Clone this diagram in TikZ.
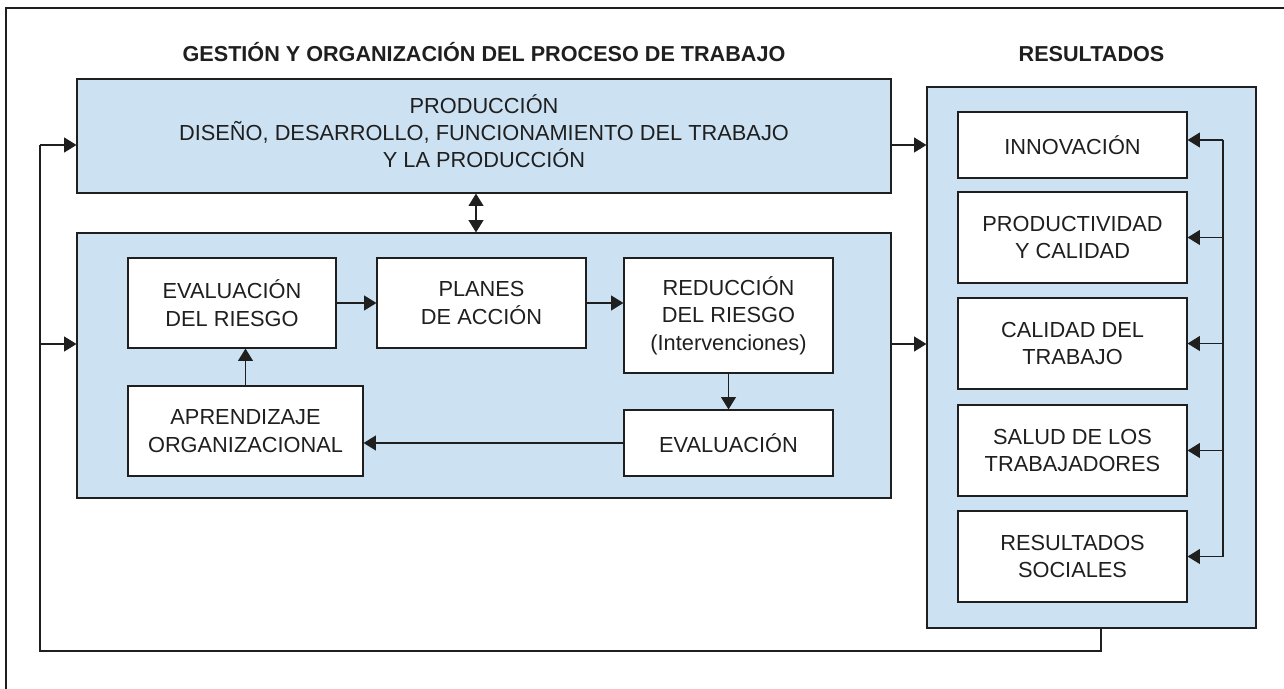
\documentclass[tikz,border=0pt]{standalone}
\usepackage{fontspec}
\setmainfont{Liberation Sans}
\usepackage{tikz}
\usetikzlibrary{arrows.meta,positioning,calc}
\definecolor{boxblue}{RGB}{204,226,242}

\begin{document}
\begin{tikzpicture}[x=0.02cm,y=-0.02cm,>={Triangle[length=7pt,width=8.5pt]},
                color=black!88,line width=0.6pt,font=\fontsize{12.4}{15.6}\selectfont,
                blue box/.style={draw,fill=boxblue,line width=0.7pt,align=center},
                white box/.style={draw,fill=white,line width=0.7pt,align=center,inner sep=2pt},
                head/.style={font=\fontsize{12.3}{15}\selectfont\bfseries,anchor=base}]
            \useasboundingbox (0,0) rectangle (1284,689);
            \draw (1284,8) -- (6,8) -- (6,689);
            % headers
            \node[head] (gesthead) at (484,62) {GESTIÓN Y ORGANIZACIÓN DEL PROCESO DE TRABAJO};
            \node[head] (reshead) at (1091.5,62) {RESULTADOS};
            % big boxes
            \node[blue box,minimum width=16.28cm,minimum height=2.28cm] (prod) at (484,136)
                {PRODUCCIÓN\\DISEÑO, DESARROLLO, FUNCIONAMIENTO DEL TRABAJO\\Y LA PRODUCCIÓN\\[-10pt]};
            \node[blue box,minimum width=16.28cm,minimum height=5.3cm] (gest) at (484,365.5) {};
            \node[blue box,minimum width=6.58cm,minimum height=10.82cm] (res) at (1091.5,357.5) {};
            % risk cycle
            \node[white box,minimum width=4.16cm,minimum height=1.8cm] (evr) at (232,303) {EVALUACIÓN\\DEL RIESGO};
            \node[white box,minimum width=4.18cm,minimum height=1.8cm] (plan) at (481.5,303) {PLANES\\DE ACCIÓN};
            \node[white box,minimum width=4.18cm,minimum height=2.3cm] (red) at (728.5,315.5) {REDUCCIÓN\\DEL RIESGO\\(Intervenciones)};
            \node[white box,minimum width=4.18cm,minimum height=1.32cm] (evl) at (728.5,443) {EVALUACIÓN};
            \node[white box,minimum width=4.7cm,minimum height=1.8cm] (apr) at (245.5,431) {APRENDIZAJE\\ORGANIZACIONAL};
            % results
            \node[white box,minimum width=4.58cm,minimum height=1.32cm] (innov) at (1072.5,145) {INNOVACIÓN};
            \node[white box,minimum width=4.58cm,minimum height=1.82cm] (prodcal) at (1072.5,237.5) {PRODUCTIVIDAD\\Y CALIDAD};
            \node[white box,minimum width=4.58cm,minimum height=1.82cm] (caltrab) at (1072.5,343.5) {CALIDAD DEL\\TRABAJO};
            \node[white box,minimum width=4.58cm,minimum height=1.82cm] (salud) at (1072.5,450.5) {SALUD DE LOS\\TRABAJADORES};
            \node[white box,minimum width=4.58cm,minimum height=1.82cm] (rsoc) at (1072.5,556.5) {RESULTADOS\\SOCIALES};
            \coordinate (fbtop) at (40,145);
            \coordinate (fbmid) at (40,344);
            \coordinate (fbcorner) at (40,651);
            \coordinate (rline) at (1223,0);
            \path[->]
                (evr) edge (plan)
                (red) edge (evl);
            \draw[->] (plan.east) -- (plan.east -| red.west);
            \draw[->] (evl.west) -- (evl.west -| apr.east);
            \draw[->] (apr.north) -- (apr.north |- evr.south);
            \draw[<->] ([xshift=-0.16cm]prod.south) -- ([xshift=-0.16cm]gest.north);
            % feedback loop
            \draw ([xshift=0.19cm]res.south) |- (fbcorner) -- (fbtop);
            \draw[->] (fbtop) -- (fbtop -| prod.west);
            \draw[->] (fbmid) -- (fbmid -| gest.west);
            \draw[->] (prod.east |- fbtop) -- (res.west |- fbtop);
            \draw[->] (gest.east |- fbmid) -- (res.west |- fbmid);
            \draw ([yshift=0.1cm]rline |- innov) -- (rline |- rsoc);
            \draw[->] ([yshift=0.1cm]rline |- innov) -- ([yshift=0.1cm]innov.east);
            \foreach \n in {prodcal,caltrab,salud,rsoc}
                \draw[->] (rline |- \n) -- (\n.east);
        \end{tikzpicture}
\end{document}
